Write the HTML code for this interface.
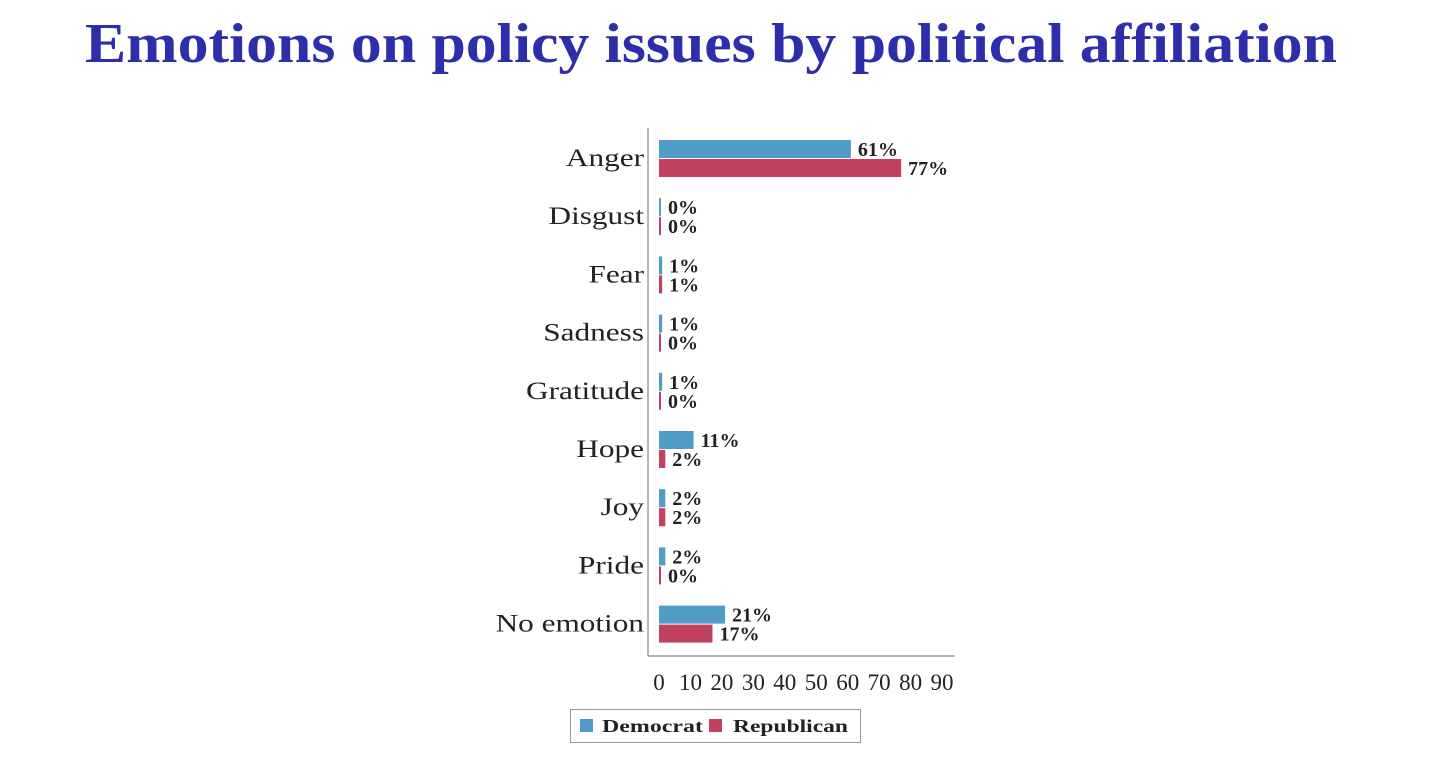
<!DOCTYPE html>
<html><head><meta charset="utf-8"><style>
html,body{margin:0;padding:0;background:#fff;}
svg{display:block;}
</style></head><body>
<svg id="chart" width="1436" height="784" xmlns="http://www.w3.org/2000/svg" font-family="Liberation Serif, serif">
<text x="711" y="62" text-anchor="middle" font-size="56" font-weight="bold" fill="#2e2eab" textLength="1252" lengthAdjust="spacingAndGlyphs">Emotions on policy issues by political affiliation</text>
<g id="plot"></g>
<line x1="648" y1="128" x2="648" y2="656" stroke="#888" stroke-width="1.2"/>
<line x1="648" y1="656" x2="955" y2="656" stroke="#888" stroke-width="1.2"/>
<g>
<rect x="570.5" y="709.5" width="290" height="33" fill="#fff" stroke="#999"/>
<rect x="580" y="719" width="13" height="13" fill="#4f9cc6"/>
<text x="602" y="732" font-size="18" font-weight="bold" fill="#222" textLength="101" lengthAdjust="spacingAndGlyphs">Democrat</text>
<rect x="709" y="719" width="13" height="13" fill="#c0425e"/>
<text x="733" y="732" font-size="18" font-weight="bold" fill="#222" textLength="115" lengthAdjust="spacingAndGlyphs">Republican</text>
</g>
</svg>
<script>
const categories = ["Anger","Disgust","Fear","Sadness","Gratitude","Hope","Joy","Pride","No emotion"];
const democrat = [61,0,1,1,1,11,2,2,21];
const republican = [77,0,1,0,0,2,2,0,17];
const xTicks = [0,10,20,30,40,50,60,70,80,90];

const NS = "http://www.w3.org/2000/svg";
const g = document.getElementById("plot");
const x0 = 660, pxPerUnit = 3.145;
function xScale(v){ return x0 + v * pxPerUnit; }
const yTop = 158, step = 58.2;
function yScale(i){ return yTop + i * step; }
function mk(tag, attrs){ const e = document.createElementNS(NS, tag); for (const k in attrs) e.setAttribute(k, attrs[k]); g.appendChild(e); return e; }

categories.forEach((c, i) => {
  const yc = yScale(i);
  const lab = mk("text", {x: 644, y: yc + 8, "text-anchor": "end", "font-size": 25, fill: "#222"});
  
  
  lab.textContent = c;
  const w0 = lab.getComputedTextLength();
  lab.setAttribute("textLength", (w0 * 1.25).toFixed(1));
  lab.setAttribute("lengthAdjust", "spacingAndGlyphs");
  [[democrat, "#4f9cc6", -18, "democrat"], [republican, "#c0425e", 1, "republican"]].forEach(([arr, col, off, nm]) => {
    const v = arr[i];
    const w = Math.max(2, xScale(v) - x0);
    const r = mk("rect", {x: x0 - 1, y: yc + off, width: w, height: 18, fill: col});
    
    
    const t = mk("text", {x: x0 - 1 + w + 7, y: yc + off + 16, "font-size": 20, "font-weight": "bold", fill: "#222"});
    
    
    t.textContent = v + "%";
  });
});
xTicks.forEach(v => {
  const t = mk("text", {x: xScale(v) - 1, y: 690, "text-anchor": "middle", "font-size": 23, fill: "#222"});
  
  
  t.textContent = v;
});
</script>
</body></html>
